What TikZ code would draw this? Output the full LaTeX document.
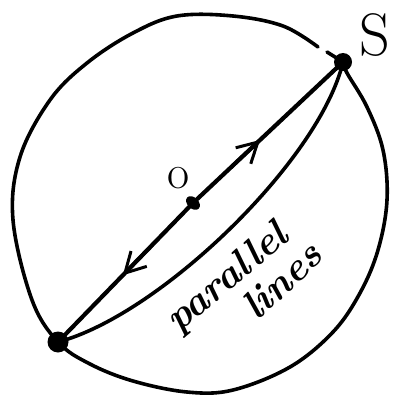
\documentclass[tikz,border=0pt]{standalone}
\usepackage{fontspec}
\usetikzlibrary{arrows.meta,shapes.geometric}
\tikzset{
  ink/.style={line width=3.6pt, line cap=round, line join=round},
  dotnode/.style={circle, fill=black, inner sep=0pt},
  barb/.style={ink, -{Straight Barb[length=20pt, width=22pt, line width=3pt]}},
  hand/.style={font=\fontsize{40}{44}\selectfont\bfseries\itshape, inner sep=0pt}
}
\begin{document}
\begin{tikzpicture}[x=1pt, y=-1pt]
\useasboundingbox (0,0) rectangle (397,401);
% points
\node[dotnode, minimum size=21pt] (P) at (58,342) {};
\node[dotnode, minimum size=18pt] (S) at (343,62) {};
\node[ellipse, fill=black, inner sep=0pt, minimum width=16pt, minimum height=11pt, rotate=-44] (O) at (193,203) {};
% circle
\coordinate (c1) at (347,73);
\coordinate (c2) at (318,47);
\coordinate (c3) at (327,52);
\draw[ink] plot[smooth, tension=0.6] coordinates {(S.center) (c1) (367,107) (383,150) (387,200) (378,250) (360,293) (333,332) (290,367) (233,390) (187,392) (133,381) (90,364) (P.center) (32,300) (13,220) (20,157) (50,100) (87,63) (133,33) (177,16) (233,16) (283,26) (c2)};
\draw[ink] (S.center) -- (c3);
% diameter through O
\draw[ink, line width=4.2pt] (P.center) -- (O.center) -- (S.center);
\path (O.center) -- (S.center) coordinate[pos=0.447] (t1) coordinate[pos=0.25] (b1);
\path (O.center) -- (P.center) coordinate[pos=0.52] (t2) coordinate[pos=0.3] (b2);
\draw[barb] (b1) -- (t1);
\draw[barb] (b2) -- (t2);
% curve
\draw[ink] (P.center) .. controls (160,315) and (320,160) .. (S.center);
% labels
\node[font=\fontsize{48}{52}\selectfont, inner sep=0pt] (olab) at (179,178) {o};
\node[font=\fontsize{60}{64}\selectfont, inner sep=0pt] (slab) at (375,35) {S};
\node[hand, rotate=40, anchor=base west] (par) at (178,334) {parallel};
\node[hand, rotate=43, anchor=base west] (lin) at (257,322) {lines};
\end{tikzpicture}
\end{document}
